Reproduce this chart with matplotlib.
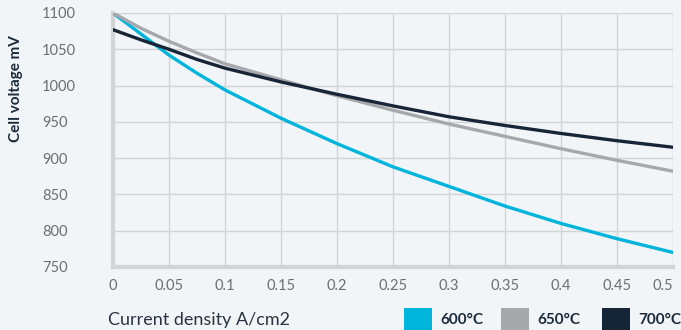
import matplotlib
matplotlib.use("Agg")
import matplotlib.pyplot as plt
from matplotlib.patches import Rectangle

current = [0, 0.025, 0.05, 0.075, 0.1, 0.15, 0.2, 0.25, 0.3, 0.35, 0.4, 0.45, 0.5]
v600 = [1100, 1071, 1042, 1017, 994, 955, 920, 888, 861, 834, 810, 789, 770]
v650 = [1100, 1079, 1061, 1045, 1030, 1008, 986, 966, 947, 930, 913, 897, 882]
v700 = [1077, 1063, 1050, 1036, 1024, 1005, 988, 972, 957, 945, 934, 924, 915]

series = [("600°C", v600, "#00b4dc"), ("650°C", v650, "#a7a8ab"), ("700°C", v700, "#172636")]
xticks = [0, 0.05, 0.1, 0.15, 0.2, 0.25, 0.3, 0.35, 0.4, 0.45, 0.5]
xticklabels = ["0", "0.05", "0.1", "0.15", "0.2", "0.25", "0.3", "0.35", "0.4", "0.45", "0.5"]
yticks = [750, 800, 850, 900, 950, 1000, 1050, 1100]

W, H = 681, 330
bg = "#f2f5f7"
plt.rcParams['font.family'] = ['Lato', 'DejaVu Sans']
fig = plt.figure(figsize=(W / 100, H / 100), dpi=100, facecolor=bg)
ax = fig.add_axes([113 / W, 63 / H, 560 / W, 254 / H], facecolor=bg)

for name, vals, col in series:
    ax.plot(current, vals, color=col, lw=2.4, solid_capstyle='round',
            solid_joinstyle='round', zorder=3)

ax.set_xlim(0, 0.5)
ax.set_ylim(750, 1100)
ax.set_xticks(xticks)
ax.set_xticklabels(xticklabels)
ax.set_yticks(yticks)
ax.grid(True, color="#d3d4d6", lw=1)
ax.set_axisbelow(True)
for s in ["top", "right"]:
    ax.spines[s].set_visible(False)
for s in ["left", "bottom"]:
    ax.spines[s].set_color("#d3d4d6")
    ax.spines[s].set_linewidth(3)
ax.tick_params(axis='both', length=0, labelsize=10.5, labelcolor="#6b6e72")
ax.tick_params(axis='x', pad=9)
ax.tick_params(axis='y', pad=51)
for lab in ax.get_yticklabels():
    lab.set_ha('left')
xl = ax.get_xticklabels()
xl[-1].set_ha('right')

fig.text(16 / W, 1 - 89 / H, "Cell voltage mV", rotation=90, ha='center', va='center',
         fontsize=11, fontweight='bold', color="#1c2b3a")
fig.text(108 / W, 1 - 320 / H, "Current density A/cm2", ha='left', va='center',
         fontsize=13, color="#2a3340")

leg_x = [404, 501, 602]
for (name, vals, col), lx in zip(series, leg_x):
    fig.patches.append(Rectangle((lx / W, 0), 28 / W, 22 / H, transform=fig.transFigure,
                                 facecolor=col, edgecolor='none'))
    fig.text((lx + 36) / W, 1 - 320 / H, name, ha='left', va='center', fontsize=11,
             fontweight='bold', color="#1c2b3a")

fig.savefig("out.png", dpi=100, facecolor=bg)
